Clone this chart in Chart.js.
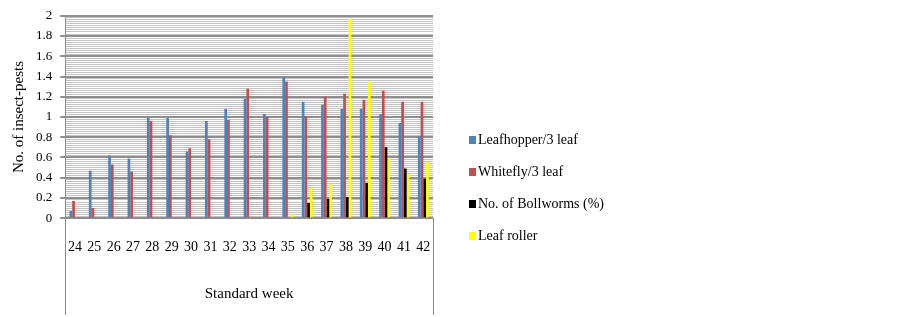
<!DOCTYPE html>
<html><head><meta charset="utf-8">
<script src="https://cdn.jsdelivr.net/npm/chart.js@4.4.1/dist/chart.umd.min.js"></script>
<style>
html,body{margin:0;padding:0;background:#fff;}
#wrap{position:relative;width:903px;height:317px;}
#legend{position:absolute;left:469px;top:132px;font-family:"Liberation Serif",serif;font-size:14px;color:#000;}
.item{display:flex;align-items:center;height:16px;margin-bottom:16px;white-space:nowrap;}
.box{width:7px;height:8px;margin-right:2px;flex:none;}
</style></head><body>
<div id="wrap"><canvas id="c" width="903" height="317"></canvas><div id="legend"></div></div>
<script>
const weeks = ['24','25','26','27','28','29','30','31','32','33','34','35','36','37','38','39','40','41','42'];
const leafhopper = [0.07,0.47,0.62,0.59,0.99,0.99,0.66,0.96,1.08,1.18,1.03,1.39,1.15,1.12,1.08,1.08,1.03,0.94,0.81];
const whitefly   = [0.17,0.10,0.53,0.46,0.96,0.82,0.69,0.78,0.97,1.28,1.00,1.35,1.01,1.20,1.23,1.17,1.26,1.15,1.15];
const bollworms  = [0.01,0.01,0.01,0.01,0.01,0.01,0.01,0.01,0.01,0.01,0.01,0.01,0.15,0.19,0.21,0.35,0.70,0.49,0.39];
const leafRoller = [0.01,0.01,0.01,0.01,0.01,0.01,0.01,0.01,0.01,0.01,0.01,0.04,0.30,0.34,1.97,1.35,0.60,0.44,0.555];
const seriesNames = ['Leafhopper/3 leaf','Whitefly/3 leaf','No. of Bollworms (%)','Leaf roller'];
const seriesColors = ['#4F81BD','#C0504D','#000000','#FFFF00'];
const yTicks = [0,0.2,0.4,0.6,0.8,1,1.2,1.4,1.6,1.8,2];

const serif = 'Liberation Serif';
const isMajor = v => yTicks.some(t => Math.abs(t - v) < 1e-6);

const frame = {
  id: 'frame',
  afterDraw(chart) {
    const {ctx, chartArea: a} = chart;
    ctx.save();
    ctx.strokeStyle = '#8c8c8c';
    ctx.lineWidth = 1;
    [a.left, a.right].forEach(x => {
      ctx.beginPath();
      ctx.moveTo(Math.round(x) + 0.5, a.bottom);
      ctx.lineTo(Math.round(x) + 0.5, chart.height - 2);
      ctx.stroke();
    });
    ctx.restore();
  }
};

const values = [leafhopper, whitefly, bollworms, leafRoller];
new Chart(document.getElementById('c'), {
  type: 'bar',
  data: {
    labels: weeks,
    datasets: values.map((d, i) => ({
      label: seriesNames[i], data: d, backgroundColor: seriesColors[i],
      borderWidth: 0, categoryPercentage: 0.56, barPercentage: 1.0
    }))
  },
  options: {
    responsive: false, animation: false,
    layout: {padding: {left: 5, right: 470, top: 15, bottom: 14}},
    plugins: {legend: {display: false}, tooltip: {enabled: false}},
    scales: {
      x: {
        grid: {display: false, drawTicks: false},
        border: {color: '#8c8c8c'},
        ticks: {font: {family: serif, size: 14}, color: '#000', padding: 21, maxRotation: 0, autoSkip: false},
        title: {display: true, text: 'Standard week', font: {family: serif, size: 15}, color: '#000', padding: {top: 8, bottom: 0}}
      },
      y: {
        min: 0, max: 2,
        ticks: {
          stepSize: 0.02, autoSkip: false, padding: 8,
          font: {family: serif, size: 13}, color: '#000',
          callback: v => isMajor(v) ? String(Math.round(v * 10) / 10) : ''
        },
        grid: {
          color: c => isMajor(c.tick.value) ? '#8e8e8e' : '#c2c2c2',
          lineWidth: c => isMajor(c.tick.value) ? 2 : 1,
          tickColor: c => isMajor(c.tick.value) ? '#8e8e8e' : 'rgba(0,0,0,0)',
          tickLength: 5
        },
        border: {color: '#8c8c8c'},
        title: {display: true, text: 'No. of insect-pests', font: {family: serif, size: 15}, color: '#000', padding: {top: 5, bottom: 0}}
      }
    }
  },
  plugins: [frame]
});

const lg = document.getElementById('legend');
seriesNames.forEach((n, i) => {
  const it = document.createElement('div'); it.className = 'item';
  const b = document.createElement('span'); b.className = 'box'; b.style.background = seriesColors[i];
  const t = document.createElement('span'); t.textContent = n;
  it.appendChild(b); it.appendChild(t); lg.appendChild(it);
});
</script>
</body></html>
